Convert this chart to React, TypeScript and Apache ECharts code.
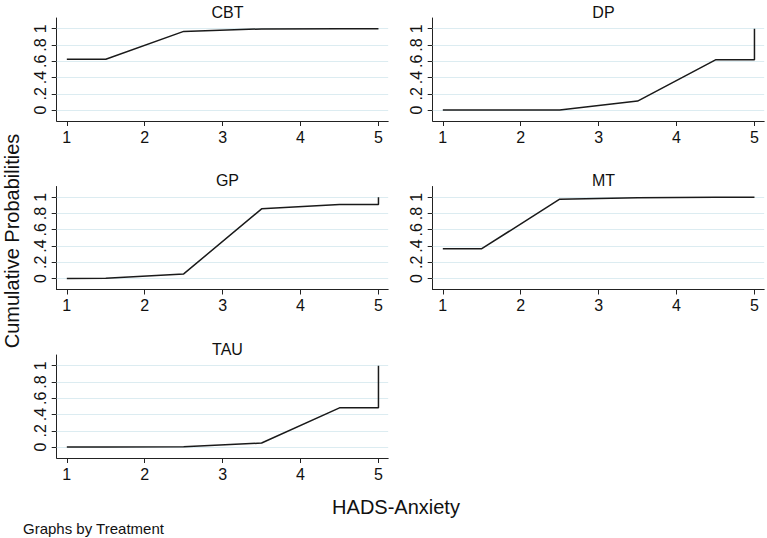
import React, { useEffect, useRef } from "react";
import * as echarts from "echarts";

// HADS-Anxiety score positions at which cumulative probabilities are plotted
const scorePoints = [1, 1.5, 2.5, 3.5, 4.5, 5, 5];

const treatments = ["CBT", "DP", "GP", "MT", "TAU"];

const cbt = [0.625, 0.625, 0.967, 0.998, 1, 1, 1];
const dp = [0, 0, 0, 0.11, 0.617, 0.617, 1];
const gp = [0, 0.004, 0.057, 0.857, 0.91, 0.91, 1];
const mt = [0.367, 0.367, 0.976, 0.995, 1, 1, 1];
const tau = [0, 0, 0.004, 0.049, 0.482, 0.482, 1];

const seriesValues = [cbt, dp, gp, mt, tau];

const xTicks = [1, 2, 3, 4, 5];
const yTicks = [0, 0.2, 0.4, 0.6, 0.8, 1];

const FONT = "'Liberation Sans', Arial, Helvetica, sans-serif";

// panel layout (3 rows x 2 columns)
const colLeft = [56.7, 432.7];
const panelWidth = 331.5;
const rowTop = [18, 186.5, 355];
const panelHeight = 103;

const fmtY = (v: number) => {
  if (v === 0) return "0";
  if (v === 1) return "1";
  return String(Math.round(v * 10) / 10).replace(/^0/, "");
};

export default function App() {
  const ref = useRef<HTMLDivElement>(null);

  useEffect(() => {
    if (!ref.current) return;
    const chart = echarts.init(ref.current, undefined, { renderer: "svg" });

    const grids: any[] = [];
    const xAxes: any[] = [];
    const yAxes: any[] = [];
    const series: any[] = [];
    const titles: any[] = [];

    treatments.forEach((name, i) => {
      const col = i % 2;
      const row = Math.floor(i / 2);
      const left = colLeft[col];
      const top = rowTop[row];
      grids.push({ left, top, width: panelWidth, height: panelHeight, containLabel: false });
      titles.push({
        text: name,
        left: left + panelWidth / 2,
        top: top - 19,
        textAlign: "center",
        textStyle: { fontFamily: FONT, fontSize: 16, fontWeight: "normal", color: "#111" },
      });
      xAxes.push({
        type: "value",
        gridIndex: i,
        min: 0.87,
        max: 5.125,
        axisLine: { show: true, onZero: false, lineStyle: { color: "#222", width: 1 } },
        axisTick: { show: true, length: 5, customValues: xTicks, lineStyle: { color: "#222" } },
        axisLabel: {
          customValues: xTicks,
          fontFamily: FONT,
          fontSize: 16,
          color: "#111",
          margin: 8,
        },
        splitLine: { show: false },
      });
      yAxes.push({
        type: "value",
        gridIndex: i,
        min: -0.135,
        max: 1.132,
        axisLine: { show: true, onZero: false, lineStyle: { color: "#222", width: 1 } },
        axisTick: { show: true, length: 5, customValues: yTicks, lineStyle: { color: "#222" } },
        axisLabel: {
          customValues: yTicks,
          formatter: fmtY,
          rotate: 90,
          fontFamily: FONT,
          fontSize: 16,
          color: "#111",
          margin: 8,
        },
        splitLine: { show: false },
      });
      const data = scorePoints.map((x, k) => [x, seriesValues[i][k]]);
      // light horizontal gridlines at each y tick, kept underneath the curve
      series.push({
        type: "line",
        xAxisIndex: i,
        yAxisIndex: i,
        data,
        z: 1,
        showSymbol: false,
        lineStyle: { opacity: 0 },
        silent: true,
        markLine: {
          z: 1,
          silent: true,
          symbol: ["none", "none"],
          label: { show: false },
          lineStyle: { color: "#dcecf1", width: 1, type: "solid" },
          data: yTicks.map((v) => ({ yAxis: v })),
        },
      });
      series.push({
        name,
        type: "line",
        xAxisIndex: i,
        yAxisIndex: i,
        data,
        z: 6,
        showSymbol: false,
        lineStyle: { color: "#1a1a1a", width: 1.5 },
      });
    });

    chart.setOption({
      animation: false,
      backgroundColor: "#ffffff",
      title: titles,
      grid: grids,
      xAxis: xAxes,
      yAxis: yAxes,
      series,
      graphic: [
        {
          type: "text",
          x: 12,
          y: 241,
          rotation: Math.PI / 2,
          style: {
            text: "Cumulative Probabilities",
            font: `20px ${FONT}`,
            fill: "#111",
            textAlign: "center",
            textVerticalAlign: "middle",
          },
        },
        {
          type: "text",
          x: 396,
          y: 507,
          style: {
            text: "HADS-Anxiety",
            font: `20px ${FONT}`,
            fill: "#111",
            textAlign: "center",
            textVerticalAlign: "middle",
          },
        },
        {
          type: "text",
          x: 23,
          y: 528,
          style: {
            text: "Graphs by Treatment",
            font: `15px ${FONT}`,
            fill: "#111",
            textAlign: "left",
            textVerticalAlign: "middle",
          },
        },
      ],
    });

    return () => chart.dispose();
  }, []);

  return (
    <div
      ref={ref}
      style={{ position: "absolute", left: 0, top: 0, width: 767, height: 538, background: "#fff" }}
    />
  );
}
